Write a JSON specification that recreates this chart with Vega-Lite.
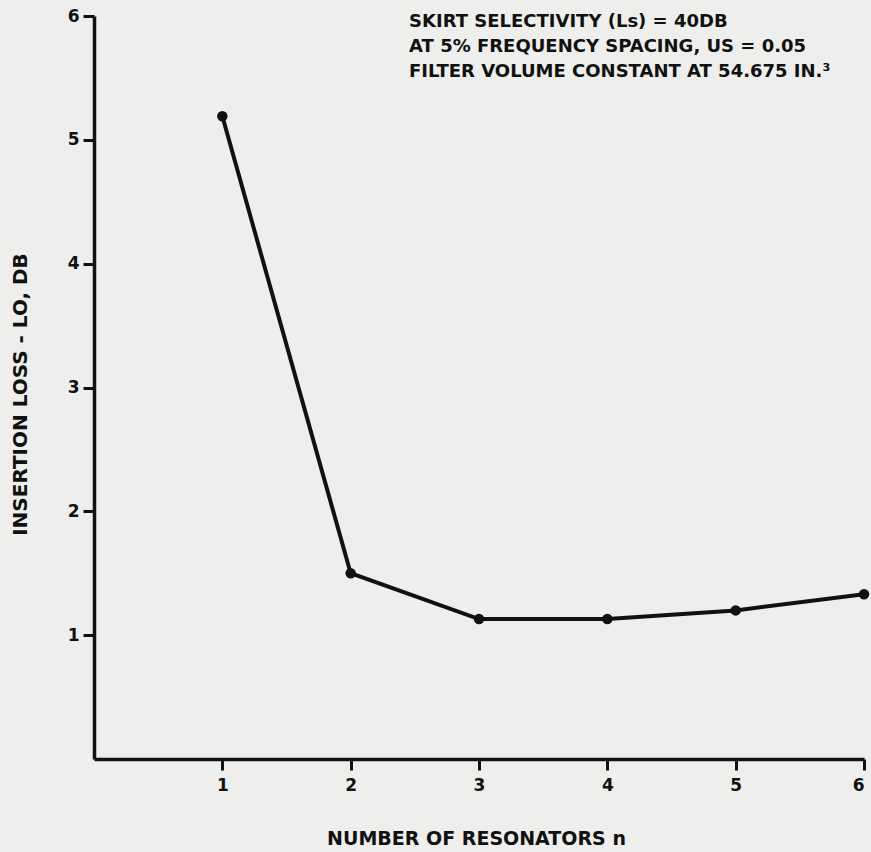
{
  "$schema": "https://vega.github.io/schema/vega-lite/v6.json",
  "width": 770,
  "height": 743,
  "autosize": {"type": "none"},
  "padding": {"left": 94, "top": 16, "right": 7, "bottom": 93},
  "background": "#eeeeec",
  "config": {
    "view": {"stroke": null},
    "font": "DejaVu Sans"
  },
  "datasets": {
    "curve": [
      {"n": 1, "loss": 5.19},
      {"n": 2, "loss": 1.5},
      {"n": 3, "loss": 1.13},
      {"n": 4, "loss": 1.13},
      {"n": 5, "loss": 1.2},
      {"n": 6, "loss": 1.33}
    ],
    "notes": [
      {"note": "SKIRT SELECTIVITY (Ls) = 40DB", "nx": 2.455, "ny": 5.95},
      {"note": "AT 5% FREQUENCY SPACING, US = 0.05", "nx": 2.455, "ny": 5.75},
      {"note": "FILTER VOLUME CONSTANT AT 54.675  IN.³", "nx": 2.455, "ny": 5.55}
    ]
  },
  "layer": [
    {
      "data": {"name": "curve"},
      "mark": {"type": "line", "color": "#111111", "strokeWidth": 4, "point": {"filled": true, "size": 110, "color": "#111111"}},
      "encoding": {
        "x": {
          "field": "n", "type": "quantitative",
          "scale": {"domain": [0, 6], "nice": false, "zero": false},
          "axis": {
            "values": [1, 2, 3, 4, 5, 6],
            "format": "d",
            "grid": false,
            "domainColor": "#111111", "domainWidth": 3.5,
            "tickColor": "#111111", "tickWidth": 3, "tickSize": 11,
            "encode": {"ticks": {"update": {"y2": {"value": -11}}}},
            "labelPadding": 7,
            "labelFont": "DejaVu Sans", "labelFontWeight": "bold", "labelFontSize": 17, "labelColor": "#111111",
            "labelBaseline": "top",
            "title": "NUMBER OF RESONATORS n",
            "titleFont": "DejaVu Sans", "titleFontWeight": "bold", "titleFontSize": 19, "titleColor": "#111111",
            "titleX": 382, "titleY": 79, "titleBaseline": "middle", "titleAlign": "center"
          }
        },
        "y": {
          "field": "loss", "type": "quantitative",
          "scale": {"domain": [0, 6], "nice": false},
          "axis": {
            "values": [1, 2, 3, 4, 5, 6],
            "format": "d",
            "grid": false,
            "domainColor": "#111111", "domainWidth": 3.5,
            "tickColor": "#111111", "tickWidth": 3, "tickSize": 11,
            "encode": {"ticks": {"update": {"x2": {"value": 11}}}},
            "labelPadding": 4,
            "labelFont": "DejaVu Sans", "labelFontWeight": "bold", "labelFontSize": 17, "labelColor": "#111111",
            "title": "INSERTION LOSS - LO, DB",
            "titleFont": "DejaVu Sans", "titleFontWeight": "bold", "titleFontSize": 20, "titleColor": "#111111",
            "titleX": -74, "titleY": 378, "titleBaseline": "middle", "titleAlign": "center", "titleAngle": -90
          }
        }
      }
    },
    {
      "data": {"name": "notes"},
      "mark": {"type": "text", "align": "left", "baseline": "middle", "font": "DejaVu Sans", "fontWeight": "bold", "fontSize": 18, "color": "#111111"},
      "encoding": {
        "x": {"field": "nx", "type": "quantitative"},
        "y": {"field": "ny", "type": "quantitative"},
        "text": {"field": "note"}
      }
    }
  ]
}
